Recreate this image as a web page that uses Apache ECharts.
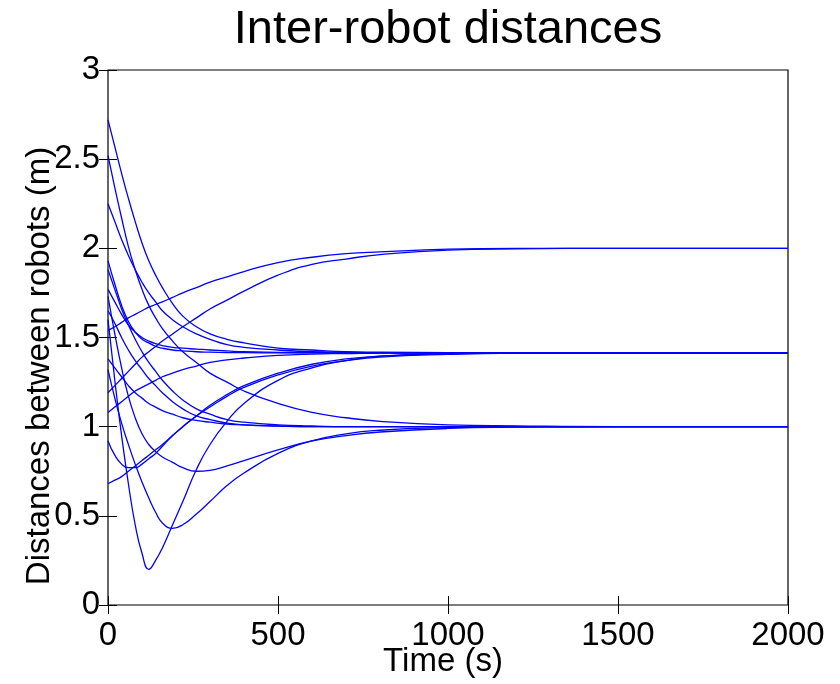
<!DOCTYPE html>
<html>
<head>
<meta charset="utf-8">
<script src="https://cdn.jsdelivr.net/npm/echarts@6/dist/echarts.min.js"></script>
<style>
  html, body { margin: 0; padding: 0; background: #fff; }
  #chart { width: 840px; height: 684px; }
</style>
</head>
<body>
<div id="chart"></div>
<script>
// time samples (s)
var times = [0, 20, 40, 60, 80, 100, 120, 140, 160, 190, 220, 260, 300, 350, 400, 500, 600, 700, 800, 1000, 1200, 1500, 2000];

// distances (m) for each robot pair
var d1  = [2.72, 2.57, 2.42, 2.28, 2.15, 2.03, 1.93, 1.85, 1.78, 1.69, 1.62, 1.56, 1.52, 1.49, 1.47, 1.44, 1.43, 1.42, 1.418, 1.415, 1.414, 1.414, 1.414];
var d2  = [2.52, 2.34, 2.17, 2.01, 1.88, 1.77, 1.68, 1.61, 1.55, 1.48, 1.42, 1.36, 1.30, 1.25, 1.20, 1.13, 1.08, 1.05, 1.03, 1.01, 1.004, 1.0, 1.0];
var d3  = [2.25, 2.15, 2.05, 1.96, 1.88, 1.81, 1.75, 1.70, 1.65, 1.60, 1.56, 1.52, 1.49, 1.46, 1.445, 1.43, 1.42, 1.417, 1.415, 1.414, 1.414, 1.414, 1.414];
var d4  = [1.93, 1.80, 1.68, 1.59, 1.53, 1.49, 1.47, 1.45, 1.44, 1.43, 1.425, 1.42, 1.418, 1.416, 1.415, 1.414, 1.414, 1.414, 1.414, 1.414, 1.414, 1.414, 1.414];
var d5  = [1.88, 1.77, 1.66, 1.57, 1.49, 1.42, 1.36, 1.31, 1.26, 1.20, 1.15, 1.10, 1.07, 1.04, 1.025, 1.01, 1.004, 1.0, 1.0, 1.0, 1.0, 1.0, 1.0];
var d6  = [1.77, 1.70, 1.63, 1.57, 1.53, 1.50, 1.48, 1.465, 1.455, 1.445, 1.44, 1.435, 1.43, 1.425, 1.42, 1.417, 1.415, 1.414, 1.414, 1.414, 1.414, 1.414, 1.414];
var d7  = [1.73, 1.52, 1.33, 1.17, 1.05, 0.96, 0.90, 0.86, 0.83, 0.80, 0.77, 0.75, 0.755, 0.78, 0.81, 0.87, 0.92, 0.95, 0.97, 0.99, 0.997, 1.0, 1.0];
var d8  = [1.32, 1.16, 1.02, 0.90, 0.79, 0.69, 0.60, 0.52, 0.46, 0.43, 0.45, 0.51, 0.58, 0.67, 0.74, 0.85, 0.92, 0.96, 0.98, 0.995, 1.0, 1.0, 1.0];
var d9  = [1.60, 1.26, 0.95, 0.68, 0.45, 0.29, 0.20, 0.25, 0.32, 0.45, 0.58, 0.76, 0.90, 1.03, 1.13, 1.26, 1.33, 1.37, 1.395, 1.41, 1.414, 1.414, 1.414];
var d10 = [0.92, 0.84, 0.79, 0.77, 0.77, 0.79, 0.82, 0.85, 0.89, 0.95, 1.00, 1.06, 1.12, 1.18, 1.23, 1.30, 1.35, 1.38, 1.395, 1.41, 1.414, 1.414, 1.414];
var d11 = [0.68, 0.70, 0.72, 0.75, 0.78, 0.81, 0.84, 0.87, 0.90, 0.95, 1.00, 1.06, 1.11, 1.17, 1.22, 1.29, 1.34, 1.37, 1.39, 1.405, 1.412, 1.414, 1.414];
var d12 = [1.08, 1.11, 1.14, 1.17, 1.20, 1.22, 1.24, 1.26, 1.28, 1.30, 1.32, 1.34, 1.36, 1.375, 1.385, 1.40, 1.407, 1.41, 1.413, 1.414, 1.414, 1.414, 1.414];
var d13 = [1.65, 1.58, 1.50, 1.43, 1.37, 1.32, 1.27, 1.23, 1.19, 1.14, 1.10, 1.06, 1.04, 1.02, 1.01, 1.003, 1.0, 1.0, 1.0, 1.0, 1.0, 1.0, 1.0];
var d14 = [1.54, 1.56, 1.585, 1.61, 1.63, 1.65, 1.67, 1.685, 1.70, 1.725, 1.75, 1.78, 1.81, 1.84, 1.87, 1.92, 1.95, 1.97, 1.98, 1.995, 2.0, 2.0, 2.0];
var d15 = [1.19, 1.23, 1.27, 1.31, 1.35, 1.39, 1.42, 1.45, 1.48, 1.52, 1.56, 1.61, 1.66, 1.71, 1.76, 1.85, 1.91, 1.94, 1.965, 1.99, 1.997, 2.0, 2.0];
var d16 = [1.38, 1.33, 1.28, 1.23, 1.19, 1.16, 1.13, 1.11, 1.09, 1.07, 1.05, 1.035, 1.025, 1.015, 1.01, 1.004, 1.0, 1.0, 1.0, 1.0, 1.0, 1.0, 1.0];

var pairs = [d1, d2, d3, d4, d5, d6, d7, d8, d9, d10, d11, d12, d13, d14, d15, d16];

var fontFam = "'Liberation Sans', Arial, sans-serif";

var chart = echarts.init(document.getElementById('chart'));

var series = pairs.map(function (vals, i) {
    return {
        name: 'pair' + (i + 1),
        type: 'line',
        showSymbol: false,
        smooth: true,
        lineStyle: { color: '#0000ff', width: 1.3 },
        data: vals.map(function (v, k) { return [times[k], v]; }),
        silent: true
    };
});

var tickStyle = { inside: true, length: 9, lineStyle: { color: '#000', width: 1 } };

var option = {
    animation: false,
    backgroundColor: '#fff',
    title: {
        text: 'Inter-robot distances',
        left: 443, top: 2, textAlign: 'center',
        textStyle: { fontFamily: fontFam, fontSize: 47, fontWeight: 'normal', color: '#000' }
    },
    grid: {
        left: 108, right: 52, top: 70, bottom: 79,
        outerBoundsMode: 'none', containLabel: false,
        show: true, borderColor: '#000', borderWidth: 1.2
    },
    xAxis: [{
        type: 'value', min: 0, max: 2000, interval: 500,
        axisLine: { show: false },
        axisTick: tickStyle,
        axisLabel: { fontFamily: fontFam, fontSize: 33, color: '#000', margin: 14,
            formatter: function (v) { return String(v); } },
        splitLine: { show: false }
    }, {
        type: 'value', min: 0, max: 2000, interval: 500, position: 'top',
        axisLine: { show: false },
        axisTick: tickStyle,
        axisLabel: { show: false }, splitLine: { show: false }
    }],
    yAxis: [{
        type: 'value', min: 0, max: 3, interval: 0.5,
        axisLine: { show: false },
        axisTick: tickStyle,
        axisLabel: { fontFamily: fontFam, fontSize: 33, color: '#000', margin: 8 },
        splitLine: { show: false }
    }, {
        type: 'value', min: 0, max: 3, interval: 0.5, position: 'right',
        axisLine: { show: false },
        axisTick: tickStyle,
        axisLabel: { show: false }, splitLine: { show: false }
    }],
    graphic: [{
        type: 'text',
        x: 40, y: 366, rotation: Math.PI / 2,
        style: {
            text: 'Distances between robots (m)',
            fontFamily: fontFam, fontSize: 33, fill: '#000',
            align: 'center', verticalAlign: 'middle'
        },
        silent: true
    }, {
        type: 'text',
        x: 443, y: 662,
        style: {
            text: 'Time (s)',
            fontFamily: fontFam, fontSize: 33, fill: '#000',
            align: 'center', verticalAlign: 'middle'
        },
        silent: true
    }],
    series: series
};

chart.setOption(option);
</script>
</body>
</html>
